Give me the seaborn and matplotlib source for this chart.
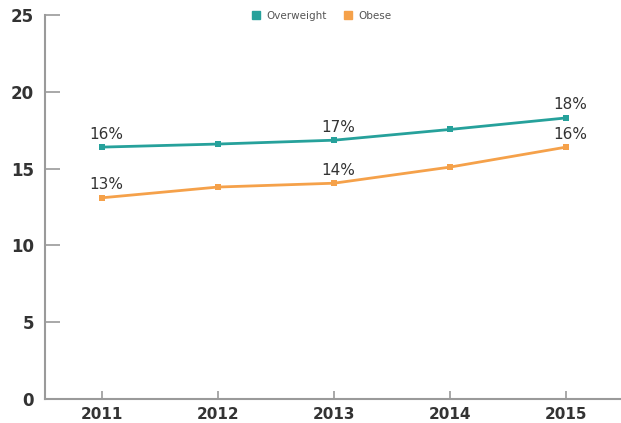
import matplotlib
matplotlib.use("Agg")
import matplotlib.pyplot as plt
import seaborn as sns
import pandas as pd

years = [2011, 2012, 2013, 2014, 2015]
overweight = [16.4, 16.6, 16.85, 17.55, 18.3]
obese = [13.1, 13.8, 14.05, 15.1, 16.4]
series_names = ["Overweight", "Obese"]
colors = ["#26a19b", "#f5a14a"]
labelled_idx = [0, 2, 4]

df = pd.DataFrame({
    "year": years * 2,
    "value": overweight + obese,
    "series": [series_names[0]] * len(years) + [series_names[1]] * len(years),
})

sns.set_style("white")
plt.rcParams["font.family"] = ["DejaVu Sans"]

fig = plt.figure(figsize=(6.21, 4.23), dpi=100)
ax = fig.add_axes([0.0725, 0.0567, 0.927, 0.9078])

sns.lineplot(data=df, x="year", y="value", hue="series", style="series",
             markers=["s", "s"], dashes=False, palette=colors, linewidth=2,
             markersize=5, markeredgewidth=0, ax=ax, legend=False)

for vals, c in zip([overweight, obese], colors):
    for i in labelled_idx:
        ax.annotate(f"{vals[i]:.0f}%", (years[i], vals[i]), xytext=(3, 4),
                    textcoords="offset points", ha="center", va="bottom",
                    fontsize=11, color="#333333")

ax.set_xlim(2010.51, 2015.47)
ax.set_ylim(0, 25)
ax.set_xticks(years)
ax.set_yticks([0, 5, 10, 15, 20, 25])
ax.set_xlabel("")
ax.set_ylabel("")

for s in ["top", "right"]:
    ax.spines[s].set_visible(False)
for s in ["left", "bottom"]:
    ax.spines[s].set_color("#9a9a9a")
    ax.spines[s].set_linewidth(1.5)

ax.tick_params(axis="y", left=True, direction="in", length=11, width=1.2,
               color="#9a9a9a", labelsize=12, labelcolor="#333333", pad=8)
ax.tick_params(axis="x", bottom=True, direction="in", length=6, width=1.2,
               color="#9a9a9a", labelsize=11, labelcolor="#333333", pad=6)
for lab in ax.get_xticklabels() + ax.get_yticklabels():
    lab.set_fontweight("bold")

handles = [plt.Line2D([], [], marker="s", linestyle="none", color=c,
                      markersize=6) for c in colors]
fig.legend(handles, series_names, loc="upper center", bbox_to_anchor=(0.517, 0.997),
           ncol=2, frameon=False, fontsize=7.5, labelcolor="#555555",
           handletextpad=0.5, columnspacing=1.5, handlelength=1)

fig.savefig("out.png", dpi=100)
